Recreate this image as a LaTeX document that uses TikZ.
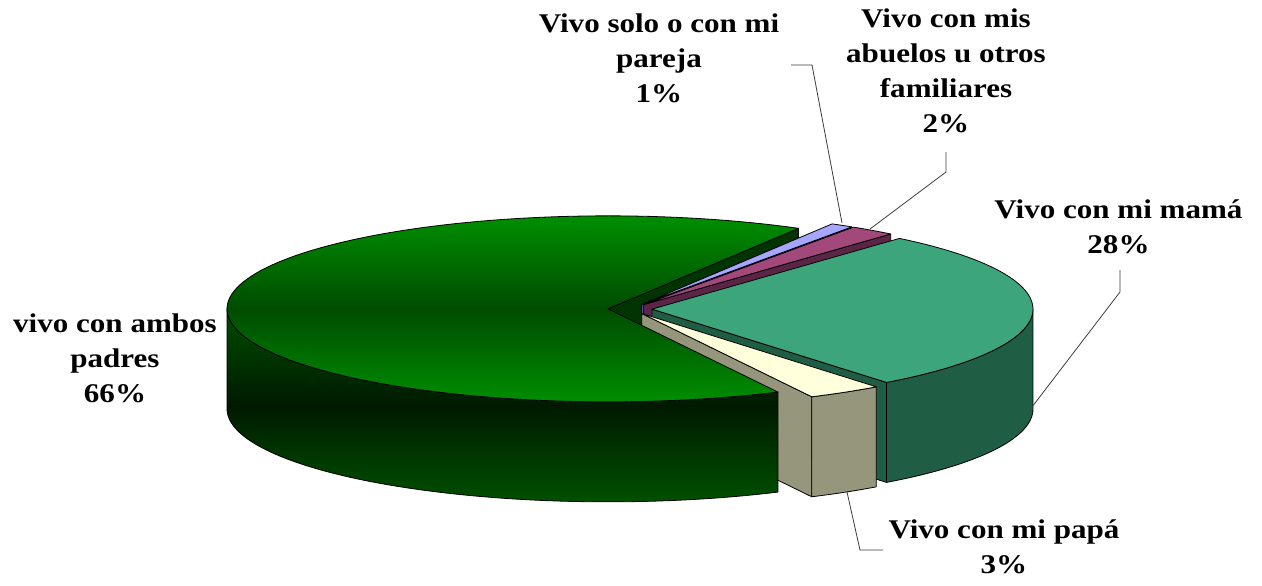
\documentclass[tikz,border=0pt]{standalone}
\usepackage{fontspec}
\setmainfont{Liberation Serif}[FakeStretch=1.15]
\definecolor{gTopL}{RGB}{0,142,0}
\definecolor{gTopD}{RGB}{0,76,0}
\definecolor{gSideL}{RGB}{0,78,0}
\definecolor{gSideB}{RGB}{0,80,0}
\definecolor{gSideD}{RGB}{0,26,0}
\definecolor{gCut}{RGB}{0,52,0}
\definecolor{bTop}{RGB}{166,166,255}
\definecolor{bCut}{RGB}{96,96,170}
\definecolor{mTop}{RGB}{162,72,122}
\definecolor{mCut}{RGB}{92,36,70}
\definecolor{tTop}{RGB}{61,165,123}
\definecolor{tSide}{RGB}{31,94,69}
\definecolor{cTop}{RGB}{255,255,220}
\definecolor{cSide}{RGB}{150,150,124}
\definecolor{leadc}{RGB}{60,60,60}
\newcommand\lbltext[1]{\vtop{\baselineskip=35pt\lineskiplimit=-50pt\halign{\hfil##\hfil\cr#1\crcr}}}
\def\RA{381}\def\RB{93}\def\DP{100}
\newcommand\CutFace[4]{\filldraw[face,fill=#4] (#1,#2) -- ({#1+\RA*cos(#3)},{#2-\RB*sin(#3)}) -- ({#1+\RA*cos(#3)},{#2+\DP-\RB*sin(#3)}) -- (#1,{#2+\DP}) -- cycle;}
\newcommand\OuterSide[5]{\filldraw[face,fill=#5] plot[domain=#3:#4,samples=40] ({#1+\RA*cos(\x)},{#2-\RB*sin(\x)}) -- plot[domain=#4:#3,samples=40] ({#1+\RA*cos(\x)},{#2+\DP-\RB*sin(\x)}) -- cycle;}
\newcommand\TopFace[5]{\filldraw[face,fill=#5] (#1,#2) -- plot[domain=#3:#4,samples=60] ({#1+\RA*cos(\x)},{#2-\RB*sin(\x)}) -- cycle;}
\tikzset{
  face/.style={draw=black,line width=0.8pt,line join=round},
  leader/.style={draw=leadc,line width=0.8pt},
  lbl/.style={anchor=base,inner sep=0pt,font=\fontsize{27}{35}\selectfont\bfseries}
}
\begin{document}
\begin{tikzpicture}[x=1pt,y=-1pt]
\useasboundingbox (0,0) rectangle (1262,586);
% green cut face (back)
\CutFace{608.0}{308.84}{60}{gCut}
% blue slice
\CutFace{641.58}{304.43}{56.5}{bCut}
\TopFace{641.58}{304.43}{56.5}{60}{bTop}
% magenta slice
\CutFace{643.24}{304.71}{49.5}{mCut}
\TopFace{643.24}{304.71}{49.5}{56.5}{mTop}
% teal slice
\CutFace{651.99}{309.12}{-52}{tSide}
\OuterSide{651.99}{309.12}{-52}{0}{tSide}
\TopFace{651.99}{309.12}{-52}{49.5}{tTop}
% cream slice
\CutFace{641.74}{313.54}{-63.5}{cSide}
\OuterSide{641.74}{313.54}{-63.5}{-52}{cSide}
\TopFace{641.74}{313.54}{-63.5}{-52}{cTop}
% green slice (front)
\shadedraw[face,top color=gSideL,bottom color=gSideB,middle color=gSideD]
  plot[domain=180:296.5,samples=80] ({608.0+\RA*cos(\x)},{308.84-\RB*sin(\x)})
  -- plot[domain=296.5:180,samples=80] ({608.0+\RA*cos(\x)},{308.84+\DP-\RB*sin(\x)}) -- cycle;
\shadedraw[face,top color=gTopL,bottom color=gTopL,middle color=gTopD]
  (608.0,308.84) -- plot[domain=60:296.5,samples=120] ({608.0+\RA*cos(\x)},{308.84-\RB*sin(\x)}) -- cycle;
% labels
\node[lbl] (lsolo) at (659,33) {\lbltext{Vivo solo o con mi\cr pareja\cr 1\%}};
\node[lbl] (labu) at (946,28) {\lbltext{Vivo con mis\cr abuelos u otros\cr familiares\cr 2\%}};
\node[lbl] (lmama) at (1118.5,218) {\lbltext{Vivo con mi mamá\cr 28\%}};
\node[lbl] (lpapa) at (1004,538) {\lbltext{Vivo con mi papá\cr 3\%}};
\node[lbl] (lambos) at (115,332) {\lbltext{vivo con ambos\cr padres\cr 66\%}};
% leader lines
\coordinate (soloA) at (842,223);
\coordinate (soloB) at (812,65);
\coordinate (soloC) at (791,65);
\coordinate (abuA) at (870,229);
\coordinate (abuB) at (946,172);
\coordinate (abuC) at (946,152);
\coordinate (mamaA) at (1032,407);
\coordinate (mamaB) at (1120,292);
\coordinate (mamaC) at (1120,270);
\coordinate (papaA) at (847,492);
\coordinate (papaB) at (860,550);
\coordinate (papaC) at (883,550);
\draw[leader] (soloA) -- (soloB) -- (soloC);
\draw[leader] (abuA) -- (abuB) -- (abuC);
\draw[leader] (mamaA) -- (mamaB) -- (mamaC);
\draw[leader] (papaA) -- (papaB) -- (papaC);
\end{tikzpicture}
\end{document}
